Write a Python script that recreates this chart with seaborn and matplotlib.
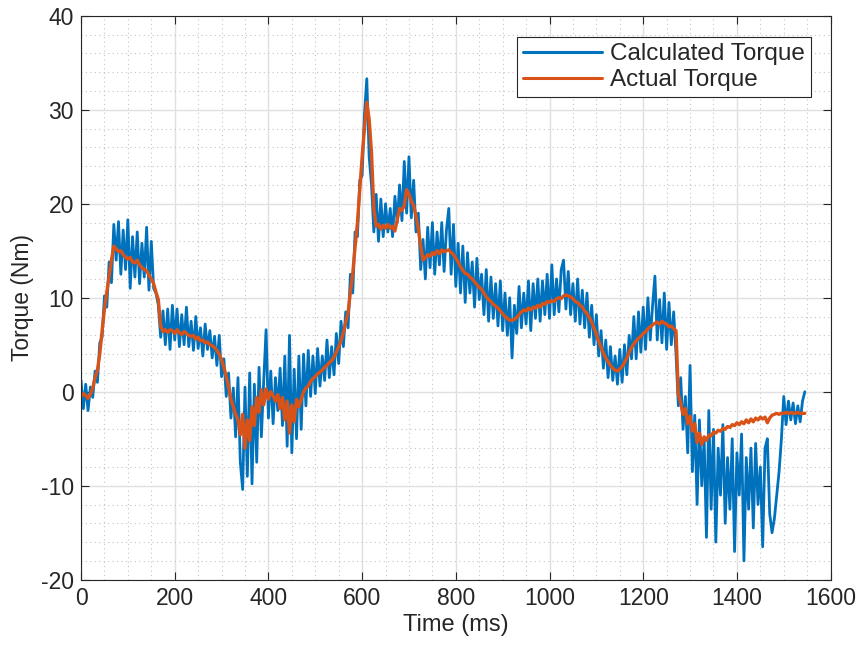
import numpy as np
import pandas as pd
import matplotlib
matplotlib.use("Agg")
import matplotlib.pyplot as plt
from matplotlib.ticker import MultipleLocator
import seaborn as sns

# time axis: one reading every 5 ms, 0 .. 1545 ms
time_ms = np.arange(0, 1550, 5)

# torque (Nm), 20 readings per 100 ms row
calculated_torque = [
    1.2, -1.8, 0.8, -2.0, 0.5, -0.6, 2.2, 1.0, 5.2, 5.8, 10.2, 9.0, 13.8, 11.6, 17.8, 14.0, 18.1, 12.5, 17.2, 13.0,
    18.3, 11.0, 16.5, 12.2, 17.0, 11.5, 15.8, 12.2, 17.5, 10.8, 16.0, 11.0, 10.5, 9.2, 5.8, 8.6, 5.0, 8.8, 4.5, 9.2,
    5.5, 8.8, 4.8, 8.2, 5.0, 9.0, 4.8, 7.5, 4.4, 8.0, 4.6, 6.8, 3.8, 7.2, 4.5, 6.5, 3.6, 5.9, 2.8, 6.0,
    1.6, 3.5, -0.5, 2.0, -2.8, 0.4, -4.8, 1.5, -7.5, -10.4, 0.5, -9.0, 2.0, -9.8, 0.8, -7.5, 2.6, -4.8, 1.2, 6.6,
    -2.8, 2.2, -3.4, 1.5, -2.0, 2.5, -3.6, 3.8, -5.8, 6.0, -6.5, 2.4, -5.0, 3.8, -4.0, 4.0, -1.5, 4.4, -0.5, 3.8,
    -0.2, 4.6, 0.6, 3.8, 1.2, 5.5, 1.5, 4.8, 1.8, 6.2, 3.0, 7.5, 4.8, 8.5, 6.8, 12.5, 10.5, 17.0, 16.5, 22.5,
    23.0, 29.5, 33.3, 25.0, 22.0, 17.0, 21.0, 16.0, 20.5, 16.5, 20.0, 17.0, 19.5, 16.5, 20.8, 18.0, 22.0, 18.2, 24.5, 19.0,
    25.0, 18.5, 22.5, 17.0, 19.0, 13.0, 16.2, 12.0, 17.5, 13.2, 18.0, 12.5, 17.0, 13.5, 18.0, 12.8, 17.2, 19.5, 12.5, 17.8,
    11.2, 15.8, 10.5, 15.5, 9.5, 14.8, 10.5, 13.8, 9.0, 14.2, 9.8, 12.5, 8.2, 13.0, 7.5, 12.2, 7.8, 11.5, 7.0, 11.8,
    6.5, 10.5, 6.0, 10.0, 3.6, 9.2, 6.2, 11.2, 6.8, 10.5, 7.2, 11.8, 6.5, 11.5, 7.8, 12.0, 7.5, 11.8, 8.2, 12.5,
    7.8, 13.5, 8.2, 12.0, 8.5, 13.0, 14.0, 8.8, 12.8, 8.2, 11.5, 7.5, 12.0, 7.2, 10.8, 6.8, 10.5, 5.8, 9.2, 5.0,
    8.2, 3.8, 6.5, 2.5, 5.5, 1.5, 4.8, 1.2, 3.8, 0.8, 4.5, 1.0, 5.0, 1.8, 6.0, 3.5, 8.0, 3.5, 8.5, 4.2,
    9.0, 4.5, 10.0, 5.5, 9.2, 12.3, 5.5, 9.8, 5.2, 10.5, 4.5, 9.5, 5.0, 8.5, 4.0, -1.5, 1.5, -4.0, -0.5, -6.5,
    2.8, -8.5, -2.5, -12.0, -3.0, -10.0, -5.0, -15.5, -2.0, -12.5, -4.0, -16.0, -6.0, -11.0, -3.5, -14.0, -7.0, -12.5, -5.0, -17.0,
    -6.5, -11.0, -4.5, -18.0, -7.0, -12.5, -6.0, -14.5, -5.5, -12.0, -8.0, -16.5, -6.0, -5.0, -13.0, -15.0, -13.5, -11.0, -8.5, -5.0,
    -0.5, -3.5, -1.0, -3.0, -1.2, -3.4, -1.5, -3.2, -1.0, 0.0,
]

actual_torque = [
    -0.5, -0.2, -0.4, -0.7, -0.3, 0.4, 1.5, 2.3, 4.0, 6.5, 8.8, 10.6, 12.3, 14.0, 15.5, 15.2, 14.9, 15.0, 14.6, 14.3,
    14.1, 14.3, 13.8, 13.7, 14.0, 13.5, 13.2, 13.0, 12.9, 12.4, 12.0, 11.5, 10.6, 9.8, 7.0, 6.4, 6.6, 6.3, 6.6, 6.5,
    6.2, 6.6, 6.3, 6.1, 6.4, 6.2, 6.0, 5.9, 6.0, 5.6, 5.8, 5.4, 5.5, 5.2, 5.3, 5.0, 4.9, 4.7, 4.4, 4.0,
    3.4, 2.6, 1.6, 0.5, -0.8, -1.6, -2.4, -3.0, -4.6, -2.4, -6.0, -3.0, -5.2, -1.6, -3.6, -0.6, -2.2, 0.2, -1.4, 0.3,
    -0.8, 0.0, -0.4, -1.0, -0.3, -1.8, -0.6, -3.0, -1.0, -4.4, -1.4, -3.2, -0.8, -1.6, -0.8, 0.0, 0.4, 0.6, 1.1, 1.4,
    1.6, 1.9, 2.1, 2.3, 2.6, 2.8, 3.1, 3.3, 3.7, 4.2, 4.8, 5.4, 6.3, 7.4, 8.4, 10.6, 12.6, 15.4, 18.0, 21.5,
    25.0, 28.0, 30.8, 29.0, 25.5, 19.5, 17.6, 17.8, 17.3, 17.7, 17.4, 17.8, 17.4, 17.6, 17.1, 18.3, 19.5, 19.3, 19.8, 21.5,
    21.0, 20.3, 19.8, 18.7, 17.3, 15.5, 14.0, 14.3, 14.6, 14.4, 14.8, 14.6, 15.0, 14.7, 15.1, 14.9, 15.0, 15.1, 14.8, 14.6,
    14.2, 13.8, 13.3, 12.9, 12.6, 12.5, 12.2, 12.0, 11.7, 11.4, 11.1, 10.9, 10.5, 10.1, 9.8, 9.6, 9.3, 9.1, 8.9, 8.6,
    8.3, 8.0, 7.8, 7.6, 7.6, 7.7, 7.9, 8.2, 8.5, 8.7, 8.6, 8.9, 8.7, 9.0, 8.9, 9.2, 9.0, 9.4, 9.3, 9.6,
    9.5, 9.7, 9.6, 9.9, 10.0, 9.9, 10.2, 10.3, 10.2, 10.1, 9.9, 9.6, 9.5, 9.2, 9.0, 8.6, 8.3, 7.9, 7.4, 6.8,
    6.1, 5.4, 4.7, 4.1, 3.6, 3.2, 2.8, 2.5, 2.3, 2.2, 2.4, 2.7, 3.1, 3.6, 4.2, 4.7, 5.1, 5.4, 5.7, 5.9,
    6.2, 6.4, 6.7, 6.9, 7.1, 7.3, 7.4, 7.2, 7.5, 7.3, 7.2, 6.9, 7.0, 6.7, 6.5, -0.3, -1.2, -2.4, -1.8, -3.4,
    -2.6, -4.2, -3.4, -5.4, -4.4, -5.6, -4.8, -5.2, -4.6, -4.7, -4.3, -4.4, -4.1, -4.2, -3.9, -4.0, -3.7, -3.8, -3.5, -3.6,
    -3.3, -3.5, -3.2, -3.4, -3.0, -3.3, -2.9, -3.2, -2.8, -3.0, -2.7, -2.9, -2.7, -3.3, -2.8, -2.5, -2.4, -2.3, -2.4, -2.3,
    -2.3, -2.2, -2.3, -2.2, -2.3, -2.3, -2.2, -2.3, -2.3, -2.3,
]

x_ticks = [0, 200, 400, 600, 800, 1000, 1200, 1400, 1600]
y_ticks = [-20, -10, 0, 10, 20, 30, 40]

sns.set_style("ticks")
plt.rcParams["font.family"] = ["Liberation Sans", "DejaVu Sans"]
plt.rcParams["axes.unicode_minus"] = False

ink = "#262626"
df = pd.DataFrame({"time": time_ms, "calc": calculated_torque, "actual": actual_torque})

fig = plt.figure(figsize=(8.61, 6.46), dpi=100)
ax = fig.add_axes([0.0941, 0.1026, 0.8706, 0.873])

sns.lineplot(data=df, x="time", y="calc", ax=ax, color="#0072BD", linewidth=2.0,
             label="Calculated Torque", sort=False)
sns.lineplot(data=df, x="time", y="actual", ax=ax, color="#D95319", linewidth=2.4,
             label="Actual Torque", sort=False)

ax.set_xlim(0, 1600)
ax.set_ylim(-20, 40)
ax.set_xticks(x_ticks)
ax.set_yticks(y_ticks)
ax.xaxis.set_minor_locator(MultipleLocator(50))
ax.yaxis.set_minor_locator(MultipleLocator(2))

ax.grid(which="major", color="#e0e0e0", linewidth=1.0, linestyle="-")
ax.grid(which="minor", color="#c4c4c4", linewidth=0.8, linestyle=(0, (1, 3)))
ax.set_axisbelow(True)

ax.tick_params(which="major", direction="in", length=6, width=0.8, colors=ink,
               labelsize=16.5, top=True, right=True, pad=5)
ax.tick_params(which="minor", length=0)
for side in ax.spines.values():
    side.set_visible(True)
    side.set_color(ink)
    side.set_linewidth(0.8)

ax.set_xlabel("Time (ms)", fontsize=17, color=ink, labelpad=3)
ax.set_ylabel("Torque (Nm)", fontsize=16.5, color=ink, labelpad=5)

leg = ax.legend(loc="upper right", bbox_to_anchor=(810.7 / 861, 1 - 37.3 / 646),
                bbox_transform=fig.transFigure, borderaxespad=0, fontsize=17.5,
                handlelength=3.25, handletextpad=0.3, borderpad=0.25, labelspacing=0.15,
                frameon=True, fancybox=False, edgecolor=ink, framealpha=1)
leg.get_frame().set_linewidth(0.8)
for line in leg.get_lines():
    line.set_linewidth(2.2)

fig.savefig("out.png", dpi=100)
